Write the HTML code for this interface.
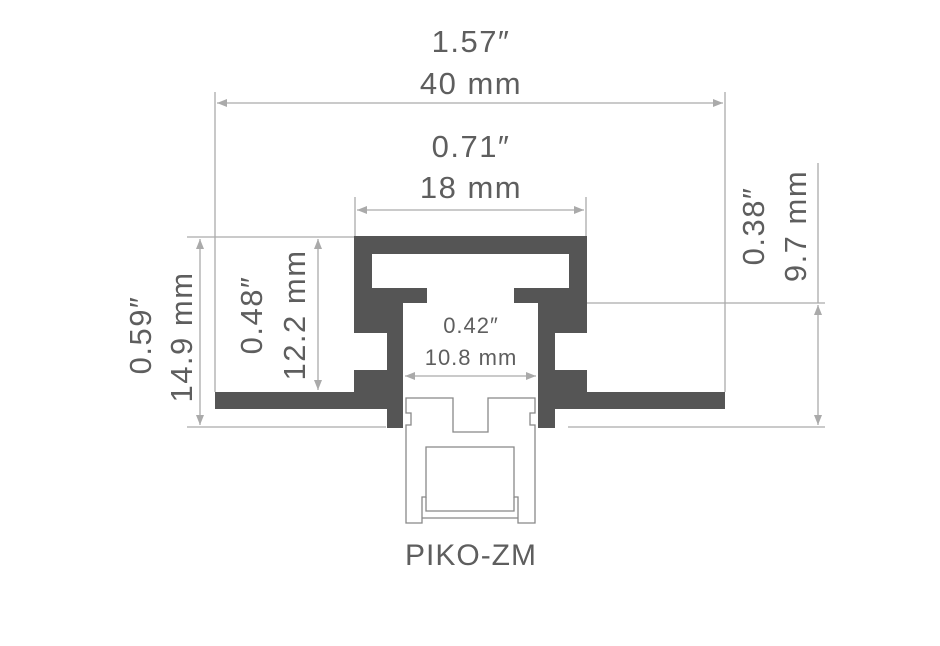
<!DOCTYPE html>
<html><head><style>body{margin:0;background:#fff}svg{display:block}</style></head>
<body>
<svg width="940" height="646" viewBox="0 0 940 646" xmlns="http://www.w3.org/2000/svg" font-family="Liberation Sans, sans-serif" fill="#5e5e5e">
<defs>
<marker id="a" viewBox="0 0 10 8" refX="10" refY="4" markerWidth="10" markerHeight="8" orient="auto-start-reverse" markerUnits="userSpaceOnUse"><path d="M0,0L10,4L0,8z" fill="#aaa"/></marker>
</defs>
<g stroke="#aaa" stroke-width="1.3" fill="none">
<line x1="215" y1="92" x2="215" y2="392"/>
<line x1="725" y1="92" x2="725" y2="392"/>
<line x1="355" y1="197" x2="355" y2="236"/>
<line x1="586" y1="197" x2="586" y2="236"/>
<line x1="187" y1="237" x2="355" y2="237"/>
<line x1="187" y1="427" x2="386" y2="427"/>
<line x1="568" y1="427" x2="825" y2="427"/>
<line x1="550" y1="303" x2="825" y2="303"/>
<line x1="818" y1="163" x2="818" y2="303"/>
<line x1="217" y1="103" x2="723" y2="103" marker-start="url(#a)" marker-end="url(#a)"/>
<line x1="357" y1="210" x2="584" y2="210" marker-start="url(#a)" marker-end="url(#a)"/>
<line x1="200" y1="239" x2="200" y2="425" marker-start="url(#a)" marker-end="url(#a)"/>
<line x1="318" y1="239" x2="318" y2="390" marker-start="url(#a)" marker-end="url(#a)"/>
<line x1="818" y1="305" x2="818" y2="425" marker-start="url(#a)" marker-end="url(#a)"/>
<line x1="405" y1="376" x2="536" y2="376" marker-start="url(#a)" marker-end="url(#a)"/>
</g>
<path fill="#555" fill-rule="evenodd" d="M354,236 H587 V333 H555 V370 H587 V392 H725 V409 H555 V428 H538 V303 H514 V288 H569 V254 H372 V288 H427 V303 H403 V428 H387 V409 H215 V392 H354 V370 H387 V333 H354 Z"/>
<g fill="none" stroke="#888" stroke-width="1.3">
<path d="M406,398 H453 V432 H488 V398 H535 V413 H530 V425 H535 V523 H518 V497 H514 V447 H426 V497 H422 V523 H406 V425 H411 V413 H406 Z"/>
<path d="M426,497 V511 H514 V497"/>
<path d="M422,518 H518"/>
</g>
<g text-anchor="middle" font-size="31" letter-spacing="1.5">
<text x="471" y="52">1.57″</text>
<text x="471" y="94">40 mm</text>
<text x="471" y="157">0.71″</text>
<text x="471" y="198">18 mm</text>
<text x="471" y="565" font-size="30" letter-spacing="1">PIKO-ZM</text>
<text transform="translate(151,335) rotate(-90)">0.59″</text>
<text transform="translate(192,337) rotate(-90)">14.9 mm</text>
<text transform="translate(262,315) rotate(-90)">0.48″</text>
<text transform="translate(305,315) rotate(-90)">12.2 mm</text>
<text transform="translate(764,226) rotate(-90)">0.38″</text>
<text transform="translate(806,226) rotate(-90)">9.7 mm</text>
<text x="471" y="333" font-size="22" letter-spacing="1">0.42″</text>
<text x="471" y="365" font-size="22" letter-spacing="1">10.8 mm</text>
</g>
</svg>
</body></html>
